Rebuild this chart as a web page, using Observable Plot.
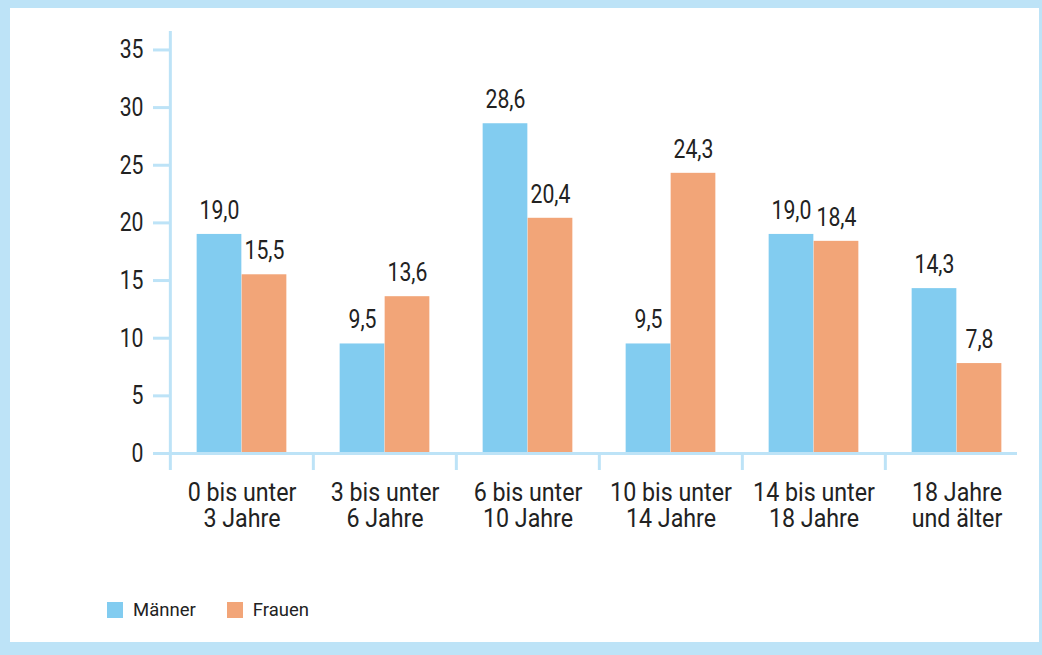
<!DOCTYPE html>
<html>
<head>
<meta charset="utf-8">
<script src="https://cdn.jsdelivr.net/npm/d3@7"></script>
<script src="https://cdn.jsdelivr.net/npm/@observablehq/plot@0.6"></script>
<style>
  html, body { margin: 0; padding: 0; }
  body { background: #bde3f7; width: 1042px; height: 655px; overflow: hidden; position: relative;
         font-family: Roboto, "Liberation Sans", sans-serif; }
  #card { position: absolute; left: 10px; top: 8px; width: 1029px; height: 634px; background: #fff; }
  #chart { position: absolute; left: 0; top: 0; }
  #legend { position: absolute; left: 97px; top: 592px; display: flex; align-items: center; font-size: 18.5px; color: #222; line-height: 20px; }
  .sw { display: inline-block; width: 16px; height: 16px; margin-right: 10px; }
  .item { display: flex; align-items: center; margin-right: 31px; }
</style>
</head>
<body>
<div id="card">
  <div id="chart"></div>
  <div id="legend"></div>
</div>
<script>
const categories = ["0 bis unter\n3 Jahre", "3 bis unter\n6 Jahre", "6 bis unter\n10 Jahre", "10 bis unter\n14 Jahre", "14 bis unter\n18 Jahre", "18 Jahre\nund älter"];
const maenner = [19.0, 9.5, 28.6, 9.5, 19.0, 14.3];
const frauen = [15.5, 13.6, 20.4, 24.3, 18.4, 7.8];
const seriesNames = ["Männer", "Frauen"];
const seriesColors = ["#82ccf0", "#f2a578"];
const yTicks = [0, 5, 10, 15, 20, 25, 30, 35];

const axisColor = "#bde3f7";
const textColor = "#222";
const fontFamily = 'Roboto, "Liberation Sans", sans-serif';

const rowsM = categories.map((c, i) => ({category: c, sex: seriesNames[0], value: maenner[i]}));
const rowsF = categories.map((c, i) => ({category: c, sex: seriesNames[1], value: frauen[i]}));

const width = 1029, height = 530;
const bandStart = 159, bandEnd = 1018.8;
const half = (bandEnd - bandStart) / categories.length / 2;
const barW = 45;
const fmt = v => v.toFixed(1).replace(".", ",");

const plot = Plot.plot({
  width, height,
  marginLeft: 159, marginRight: 22, marginTop: 23, marginBottom: 85,
  style: {background: "transparent", fontFamily, overflow: "visible"},
  x: {domain: categories, range: [bandStart, bandEnd], padding: 0, axis: null},
  y: {domain: [0, 36.6], axis: null},
  marks: [
    Plot.barY(rowsM, {x: "category", y: "value", fill: seriesColors[0], insetLeft: half - barW, insetRight: half}),
    Plot.barY(rowsF, {x: "category", y: "value", fill: seriesColors[1], insetLeft: half, insetRight: half - barW}),
    Plot.text(rowsM, {x: "category", y: "value", text: d => fmt(d.value), dx: -barW / 2, dy: -24, fontSize: 26.5, fill: textColor, className: "num"}),
    Plot.text(rowsF, {x: "category", y: "value", text: d => fmt(d.value), dx: barW / 2, dy: -24, fontSize: 26.5, fill: textColor, className: "num"}),
    Plot.ruleY([0], {stroke: axisColor, strokeWidth: 3}),
    Plot.ruleX(categories.slice(1), {x: d => d, y1: 0, y2: 0, dx: -half, insetBottom: -17, stroke: axisColor, strokeWidth: 3}),
    Plot.ruleX(categories.slice(0, 1), {x: d => d, dx: -half, insetBottom: -17, stroke: axisColor, strokeWidth: 3}),
    Plot.axisY({ticks: yTicks, tickSize: 16, tickPadding: 10, stroke: axisColor, strokeWidth: 3, fill: textColor, fontSize: 26.5, label: null, tickFormat: d => String(d), className: "num"}),
    Plot.axisX({tickSize: 0, tickPadding: 29, fill: textColor, fontSize: 25, lineHeight: 1.04, label: null, className: "cat"})
  ]
});
document.getElementById("chart").appendChild(plot);

// horizontal condensing of the text (the reference uses a condensed typeface)
function condense(selector, s) {
  plot.querySelectorAll(selector).forEach(t => {
    const tr = t.getAttribute("transform");
    if (tr) {
      t.setAttribute("transform", tr + ` scale(${s},1)`);
    } else {
      const x = +(t.getAttribute("x") || 0), y = +(t.getAttribute("y") || 0);
      t.setAttribute("transform", `translate(${x},${y}) scale(${s},1) translate(${-x},${-y})`);
    }
  });
}
condense("g.num text, .num text", 0.8);
condense("g.cat text, .cat text", 0.93);

const legend = document.getElementById("legend");
seriesNames.forEach((name, i) => {
  const item = document.createElement("div");
  item.className = "item";
  const sw = document.createElement("span");
  sw.className = "sw";
  sw.style.background = seriesColors[i];
  item.appendChild(sw);
  item.appendChild(document.createTextNode(name));
  legend.appendChild(item);
});
</script>
</body>
</html>
